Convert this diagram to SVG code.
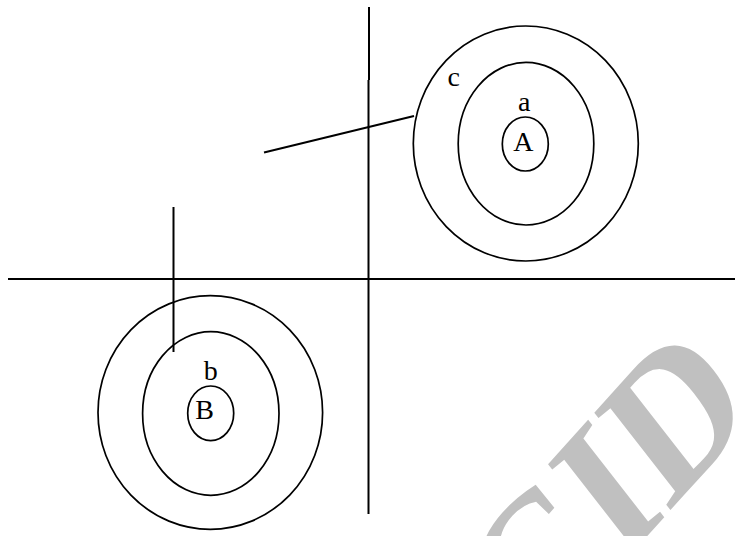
<svg xmlns="http://www.w3.org/2000/svg" width="738" height="536" viewBox="0 0 738 536">
<style>
.e{fill:none;stroke:#000;stroke-width:1.7}
.l{stroke:#000;stroke-width:2;fill:none}
.t{font-family:"Liberation Serif","Times New Roman",serif;font-size:28px;fill:#000;text-anchor:middle}
.wm{font-family:"Liberation Serif","Times New Roman",serif;font-weight:bold;font-size:186px;fill:#c0c0c0}
</style>
<rect width="738" height="536" fill="#fff"/>
<g id="watermark"><text class="wm" transform="translate(530,666) rotate(-48) skewX(-10)">CID</text></g>
<g id="connectors">
<line class="l" x1="369" y1="7" x2="369" y2="80" stroke-width="1"/>
<line class="l" x1="368.5" y1="80" x2="368.5" y2="514"/>
<line class="l" x1="8" y1="279" x2="735" y2="279"/>
<line class="l" x1="264" y1="152.5" x2="414" y2="116"/>
<line class="l" x1="173.5" y1="207" x2="173.5" y2="352"/>
</g>
<g id="nodeA">
<ellipse class="e" cx="525.8" cy="143.5" rx="112.5" ry="117.5"/>
<ellipse class="e" cx="526" cy="143.7" rx="67.8" ry="81.3"/>
<ellipse class="e" cx="525.3" cy="144" rx="23" ry="27"/>
<text class="t" x="523.3" y="151">A</text>
<text class="t" x="524.3" y="111">a</text>
<text class="t" x="453.8" y="86">c</text>
</g>
<g id="nodeB">
<ellipse class="e" cx="210.3" cy="412.5" rx="112.3" ry="116.8"/>
<ellipse class="e" cx="210.8" cy="413.5" rx="68.2" ry="81.8"/>
<ellipse class="e" cx="210.7" cy="413.3" rx="23" ry="27.3"/>
<text class="t" x="204.7" y="419.3">B</text>
<text class="t" x="210.7" y="380">b</text>
</g>
</svg>
